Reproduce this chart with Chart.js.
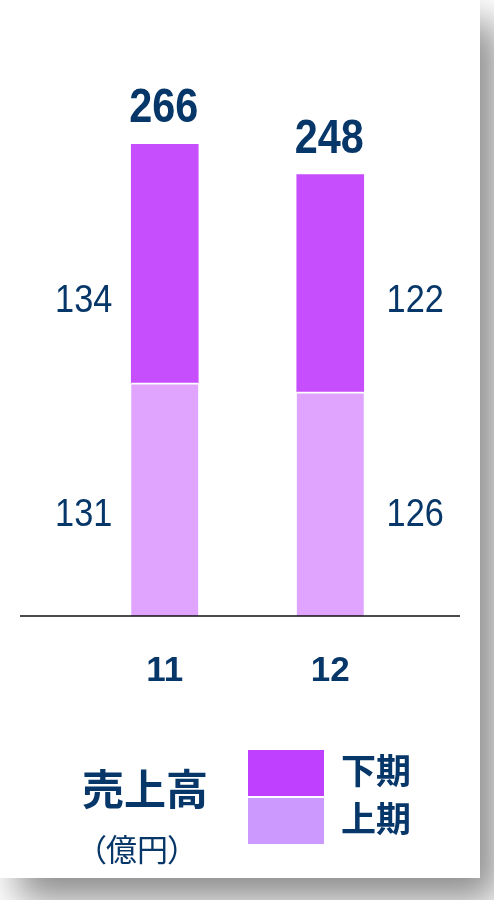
<!DOCTYPE html>
<html>
<head>
<meta charset="utf-8">
<script src="https://cdn.jsdelivr.net/npm/chart.js@4/dist/chart.umd.min.js"></script>
<style>
  html, body { margin: 0; padding: 0; background: #ffffff; }
  body { width: 494px; height: 900px; position: relative; overflow: hidden; }
  #frame { position: absolute; left: 0; top: 0; width: 480px; height: 878px; background: #ffffff;
           box-shadow: 18px 22px 36px rgba(0,0,0,0.45); }
  #wrap { position: absolute; left: 0; top: 0; width: 494px; height: 900px; }
  .navy { color: #073769; }
  #title { position: absolute; left: 60px; top: 759px; width: 170px; text-align: center;
           font-family: 'Noto Sans CJK JP', sans-serif; font-weight: 700; font-size: 42px; line-height: 56px; }
  #unit { position: absolute; left: 72px; top: 827px; width: 130px; text-align: center;
          font-family: 'Noto Sans CJK JP', sans-serif; font-weight: 400; font-size: 31px; line-height: 42px;
          font-feature-settings: "palt"; }
  .lg-row { position: absolute; left: 248px; height: 46px; }
  .lg-box { position: absolute; left: 0; top: 0; width: 76px; height: 46px; }
  .lg-text { position: absolute; left: 93px; top: -6px; white-space: nowrap;
             font-family: 'Noto Sans CJK JP', sans-serif; font-weight: 700; font-size: 35px; line-height: 50px; }
</style>
</head>
<body>
<div id="frame"></div>
<div id="wrap"><canvas id="c" width="494" height="900"></canvas></div>
<div id="title" class="navy">売上高</div>
<div id="unit" class="navy">（億円）</div>
<div id="legend"></div>
<script>
// ---- data ----
const categories = ['11', '12'];
const seriesNames = ['上期', '下期'];
const firstHalf = [131, 126];   // 上期
const secondHalf = [134, 122];  // 下期
const totals = [266, 248];

// ---- styles ----
const navy = '#073769';
const barColors = ['#E0A4FE', '#C74EFD'];
const legendColors = ['#CC99FF', '#BF40FF'];
const numFont = "'Liberation Sans', Arial, sans-serif";

function narrowText(ctx, text, x, y, sx) {
  ctx.save();
  ctx.translate(x, y);
  ctx.scale(sx, 1);
  ctx.fillText(text, 0, 0);
  ctx.restore();
}

const labelsPlugin = {
  id: 'labelsPlugin',
  afterDatasetsDraw(chart) {
    const ctx = chart.ctx;
    const y = chart.scales.y;
    // baseline
    ctx.save();
    ctx.strokeStyle = '#111111';
    ctx.lineWidth = 1.5;
    const by = y.getPixelForValue(0);
    ctx.beginPath();
    ctx.moveTo(20, by);
    ctx.lineTo(460, by);
    ctx.stroke();

    const metaLow = chart.getDatasetMeta(0);
    const metaHigh = chart.getDatasetMeta(1);
    ctx.fillStyle = navy;
    ctx.textAlign = 'center';
    ctx.textBaseline = 'alphabetic';
    // totals
    ctx.font = "bold 49px " + numFont;
    metaHigh.data.forEach((bar, i) => {
      narrowText(ctx, String(totals[i]), bar.x - 1, bar.y - 22, 0.845);
    });
    // side labels
    ctx.font = "39px " + numFont;
    const lowY = y.getPixelForValue(50.8);
    const highY = y.getPixelForValue(170.7);
    categories.forEach((c, i) => {
      const side = i === 0 ? -81 : 85;
      const x = metaLow.data[i].x + side;
      narrowText(ctx, String(firstHalf[i]), x, lowY, 0.88);
      narrowText(ctx, String(secondHalf[i]), x, highY, 0.88);
    });
    ctx.restore();
  }
};

const chart = new Chart(document.getElementById('c'), {
  type: 'bar',
  data: {
    labels: categories,
    datasets: [
      { label: seriesNames[0], data: firstHalf, backgroundColor: barColors[0],
        borderColor: '#ffffff', borderWidth: { top: 2, left: 0, right: 0, bottom: 0 }, borderSkipped: 'start' },
      { label: seriesNames[1], data: secondHalf, backgroundColor: barColors[1], borderWidth: 0 }
    ]
  },
  options: {
    responsive: false,
    animation: false,
    barThickness: 67,
    layout: { padding: { left: 82, right: 81, top: 82, bottom: 174 } },
    plugins: { legend: { display: false }, tooltip: { enabled: false } },
    scales: {
      x: {
        stacked: true,
        grid: { display: false, drawTicks: false },
        border: { display: false },
        ticks: { color: navy, padding: 34, font: { family: numFont, size: 35, weight: 'bold' } }
      },
      y: { stacked: true, min: 0, max: 300, display: false }
    }
  },
  plugins: [labelsPlugin]
});

// HTML legend built from datasets (reversed: 下期 on top)
const legend = document.getElementById('legend');
const order = [1, 0];
order.forEach((di, row) => {
  const r = document.createElement('div');
  r.className = 'lg-row';
  r.style.top = (750 + row * 47.7) + 'px';
  const b = document.createElement('div');
  b.className = 'lg-box';
  b.style.background = legendColors[di];
  const t = document.createElement('div');
  t.className = 'lg-text navy';
  t.textContent = chart.data.datasets[di].label;
  r.appendChild(b); r.appendChild(t);
  legend.appendChild(r);
});
</script>
</body>
</html>
